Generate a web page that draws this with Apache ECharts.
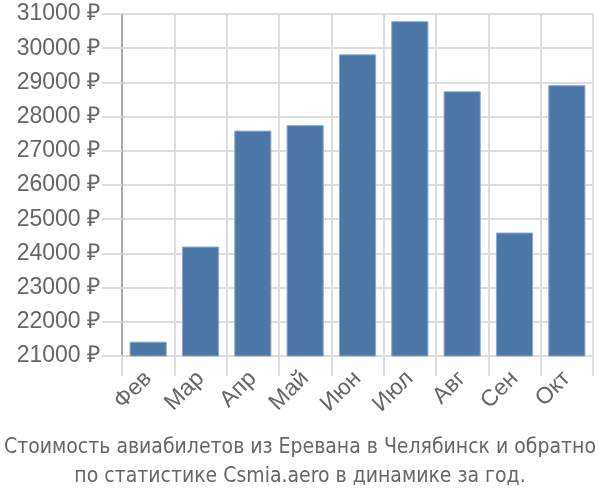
<!DOCTYPE html>
<html><head><meta charset="utf-8">
<script src="https://cdn.jsdelivr.net/npm/echarts@6/dist/echarts.min.js"></script>
<style>html,body{margin:0;padding:0;background:#fff}#c{width:600px;height:500px}</style>
</head><body><div id="c"></div>
<script>
const categories = ['Фев','Мар','Апр','Май','Июн','Июл','Авг','Сен','Окт'];
const prices = [21420, 24200, 27590, 27750, 29820, 30790, 28740, 24610, 28920];
const yTicks = {min: 21000, max: 31000, step: 1000};
const titleLines = ['Стоимость авиабилетов из Еревана в Челябинск и обратно', 'по статистике Csmia.aero в динамике за год.'];

const chart = echarts.init(document.getElementById('c'));
chart.setOption({
  animation: false,
  backgroundColor: '#fff',
  textStyle: {fontFamily: 'Liberation Sans'},
  title: {
    text: titleLines.join('\n'),
    left: 'center', bottom: 4,
    textStyle: {fontFamily: 'DejaVu Sans Condensed', fontWeight: 'normal', fontSize: 21, color: '#666', lineHeight: 29}
  },
  grid: {left: 122, right: 7, top: 14, bottom: 144},
  xAxis: {
    type: 'category', data: categories,
    axisLine: {show: true, lineStyle: {color: '#ddd'}},
    axisTick: {show: true, length: 20, alignWithLabel: false, lineStyle: {color: '#ddd', width: 2}},
    splitLine: {show: true, lineStyle: {color: '#ddd', width: 2}},
    axisLabel: {rotate: 45, fontSize: 23, color: '#666', margin: 19, interval: 0}
  },
  yAxis: {
    type: 'value', min: yTicks.min, max: yTicks.max, interval: yTicks.step,
    axisLine: {show: true, lineStyle: {color: '#aaa', width: 2}},
    axisTick: {show: true, length: 20, lineStyle: {color: '#ddd', width: 2}},
    splitLine: {show: true, lineStyle: {color: '#ddd', width: 2}},
    axisLabel: {formatter: v => v + ' ₽', fontSize: 23, color: '#666', margin: 22}
  },
  series: [{
    type: 'bar', data: prices, barWidth: '71%',
    itemStyle: {color: '#4c78a8', borderColor: '#8fa9c9', borderWidth: 1}
  }]
});
</script></body></html>
